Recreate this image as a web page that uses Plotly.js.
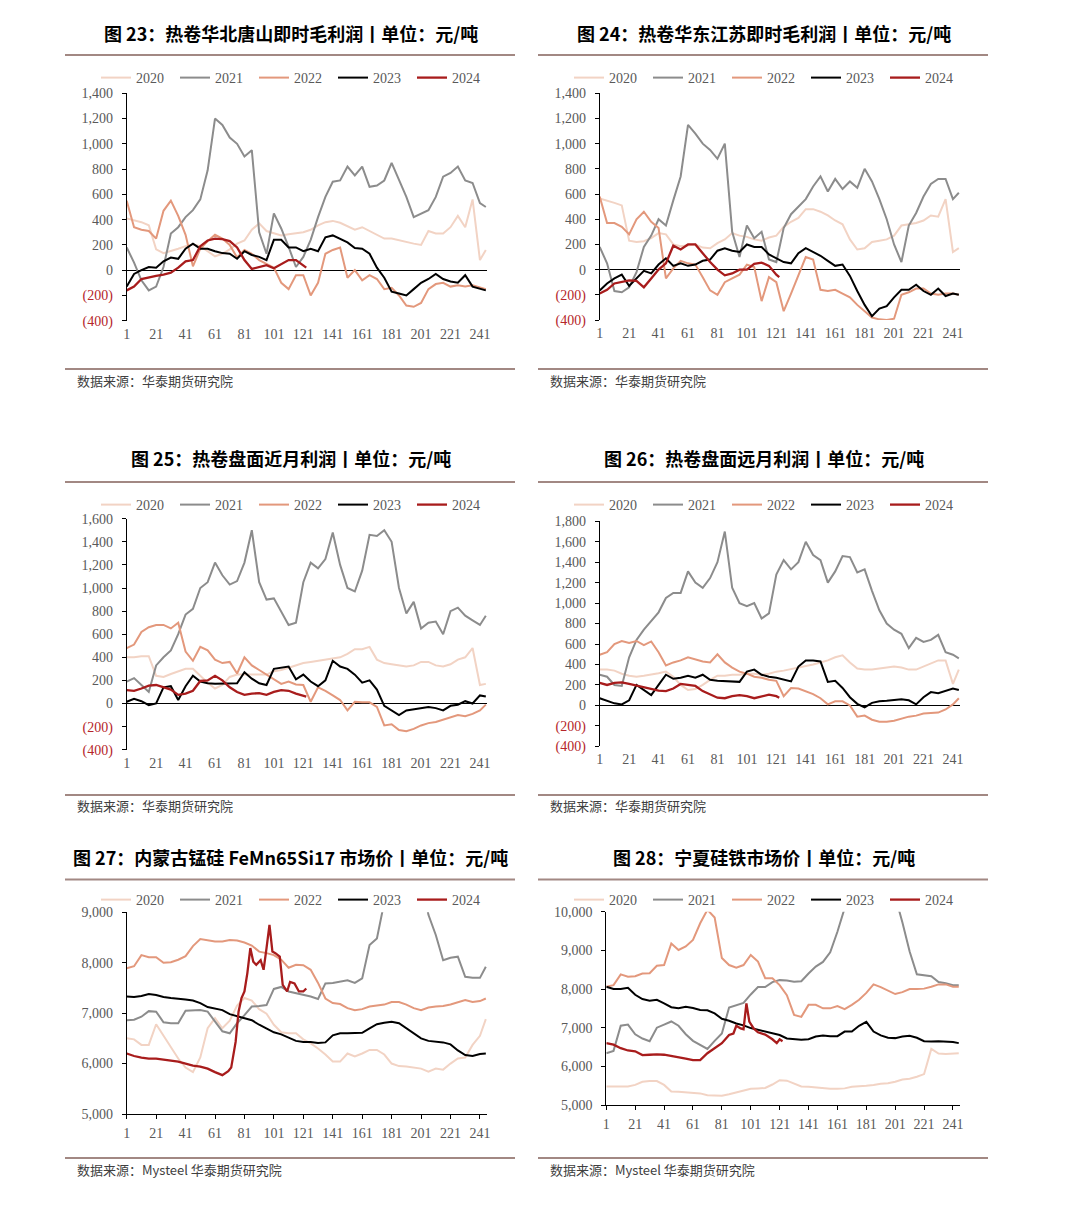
<!DOCTYPE html>
<html><head><meta charset="utf-8">
<script src="https://cdn.plot.ly/plotly-3.0.1.min.js"></script>
<style>html,body{margin:0;padding:0;background:#fff}#chart{width:1080px;height:1215px}</style>
</head><body><div id="chart"></div>
<script>
// ---------- shared categories ----------
const NAMES = ['2020','2021','2022','2023','2024'];
const X = [1,6,11,16,21,26,31,36,41,46,51,56,61,66,71,76,81,86,91,96,101,106,111,116,121,126,131,136,141,146,151,156,161,166,171,176,181,186,191,196,201,206,211,216,221,226,231,236,241,245];
const X24 = [1,6,11,16,21,26,31,36,41,46,51,56,61,66,71,76,81,86,91,96,101,106,111,116,121,123];
const X5_24 = [1,6,11,16,21,26,31,36,41,46,51,56,61,66,70,72,75,77,79,81,83,85,87,89,92,94,96,98,100,102,105,107,110,112,115,118,121,123];
const X6_24 = [1,6,11,16,21,26,31,36,41,46,51,56,61,66,71,76,81,86,89,91,94,96,98,100,103,106,111,116,119,121,123];

// ---------- tick labels ----------
const xTickVals = [1,21,41,61,81,101,121,141,161,181,201,221,241];
const xTickText = ['1','21','41','61','81','101','121','141','161','181','201','221','241'];
const yVals12 = [-400,-200,0,200,400,600,800,1000,1200,1400];
const yText12 = ['(400)','(200)','0','200','400','600','800','1,000','1,200','1,400'];
const yVals3 = [-400,-200,0,200,400,600,800,1000,1200,1400,1600];
const yText3 = ['(400)','(200)','0','200','400','600','800','1,000','1,200','1,400','1,600'];
const yVals4 = [-400,-200,0,200,400,600,800,1000,1200,1400,1600,1800];
const yText4 = ['(400)','(200)','0','200','400','600','800','1,000','1,200','1,400','1,600','1,800'];
const yVals5 = [5000,6000,7000,8000,9000];
const yText5 = ['5,000','6,000','7,000','8,000','9,000'];
const yVals6 = [5000,6000,7000,8000,9000,10000];
const yText6 = ['5,000','6,000','7,000','8,000','9,000','10,000'];

// ---------- chart 23 ----------
const c1_2020 = [410,395,380,355,165,135,150,170,190,205,190,150,110,130,165,210,235,320,370,310,290,275,285,290,300,320,355,380,390,375,345,320,340,310,280,250,250,235,220,210,200,310,290,290,340,430,340,560,80,160];
const c1_2021 = [180,60,-80,-160,-130,25,290,340,420,475,560,790,1200,1150,1050,1000,900,950,300,130,450,330,185,25,105,240,420,580,700,710,820,750,820,660,670,710,850,710,580,420,450,475,580,740,770,820,710,690,530,500];
const c1_2022 = [550,340,320,310,250,470,550,430,280,30,170,230,280,250,200,100,160,130,80,50,20,-100,-150,-40,-40,-200,-100,130,160,180,-60,0,-80,-40,-70,-150,-140,-200,-280,-290,-260,-150,-110,-100,-130,-120,-130,-120,-140,-150];
const c1_2023 = [-130,-30,0,25,20,70,100,90,170,210,170,170,150,135,130,90,150,120,105,80,240,240,180,180,150,170,150,260,275,250,220,175,170,130,20,-60,-170,-185,-200,-150,-100,-70,-30,-70,-90,-100,-40,-130,-150,-160];
const c1_2024 = [-160,-130,-70,-55,-45,-35,-20,20,70,80,190,235,250,245,230,180,80,10,25,40,15,50,80,80,40,20];

// ---------- chart 24 ----------
const c2_2020 = [565,550,530,510,230,220,225,250,290,280,200,185,190,200,175,170,210,240,290,270,260,240,230,255,270,340,380,410,480,480,460,430,390,360,240,160,170,220,230,240,270,350,360,370,390,430,420,560,140,170];
const c2_2021 = [180,50,-170,-180,-140,-20,180,270,400,350,550,740,1150,1080,1000,950,880,1000,300,100,350,250,300,80,60,330,440,500,560,660,740,620,720,640,700,650,800,700,560,400,200,60,350,450,580,680,720,720,560,610];
const c2_2022 = [580,370,370,340,280,400,460,380,330,-70,10,70,50,40,-60,-165,-200,-100,-70,-40,40,20,-250,-60,-100,-330,-190,-40,100,80,-160,-170,-160,-190,-220,-280,-330,-380,-395,-400,-390,-200,-180,-150,-150,-190,-200,-190,-190,-200];
const c2_2023 = [-165,-110,-70,-40,-130,-70,-10,-30,40,90,30,50,30,40,70,80,150,170,150,140,200,180,180,120,90,60,50,130,170,140,110,70,30,40,-50,-170,-280,-370,-310,-290,-220,-160,-160,-120,-170,-200,-150,-210,-190,-200];
const c2_2024 = [-190,-160,-110,-95,-85,-90,-140,-70,0,50,190,160,200,200,130,60,0,-45,-30,0,0,45,55,30,-40,-60];

// ---------- chart 25 ----------
const c3_2020 = [400,400,410,410,240,230,255,280,300,300,240,180,130,160,230,250,250,250,250,250,280,290,310,330,350,360,370,380,390,400,430,470,470,490,380,350,340,330,320,330,360,360,330,320,340,380,400,480,160,170];
const c3_2021 = [190,220,160,100,330,400,460,600,770,820,1000,1050,1220,1110,1030,1060,1220,1500,1050,900,910,800,680,700,1050,1220,1170,1250,1480,1200,1000,970,1150,1460,1450,1500,1400,1000,780,880,650,700,710,600,800,830,760,720,680,760];
const c3_2022 = [480,510,620,660,680,680,650,700,450,370,490,460,380,350,360,260,400,330,290,250,210,170,190,165,160,15,140,110,70,30,-60,15,10,10,-30,-190,-180,-230,-240,-220,-190,-170,-160,-140,-120,-100,-110,-90,-60,-10];
const c3_2023 = [15,40,20,-15,0,140,150,30,150,240,190,175,170,170,175,175,270,215,175,160,300,310,320,210,250,190,150,200,370,320,300,250,180,200,120,-20,-60,-100,-60,-50,-40,-30,-40,-60,-20,-10,20,0,70,60];
const c3_2024 = [115,110,130,155,160,140,120,75,85,110,195,200,240,200,140,100,75,85,90,75,100,115,110,85,65,60];

// ---------- chart 26 ----------
const c4_2020 = [350,350,340,310,290,280,290,300,315,330,280,200,150,160,200,250,290,290,300,300,310,310,300,310,330,340,355,365,380,400,420,440,470,490,420,360,350,350,360,370,380,370,350,350,380,410,440,440,210,350];
const c4_2021 = [300,280,200,190,470,640,740,830,910,1050,1100,1100,1310,1200,1150,1245,1400,1700,1150,1000,970,1000,850,900,1280,1420,1330,1400,1600,1470,1420,1200,1310,1460,1450,1300,1330,1120,930,800,740,700,560,660,620,640,690,520,495,460];
const c4_2022 = [495,520,600,630,610,630,590,625,520,390,420,440,470,450,430,420,500,420,370,330,310,280,270,250,240,90,170,165,135,110,70,10,40,40,0,-110,-100,-140,-160,-160,-150,-130,-110,-100,-80,-75,-70,-40,10,70];
const c4_2023 = [70,45,20,10,50,200,150,100,200,300,260,270,290,270,300,250,240,235,230,230,330,350,300,280,270,250,235,380,440,440,430,230,240,170,80,15,-20,25,40,45,55,60,50,10,80,130,120,140,165,150];
const c4_2024 = [220,200,220,225,210,195,180,160,145,140,165,210,200,190,140,105,75,70,90,100,90,70,90,105,90,75];

// ---------- chart 27 ----------
const c5_2020 = [6500,6480,6370,6370,6780,6550,6330,6100,5920,5830,6120,6700,6900,6700,6850,7150,7300,7250,7080,6990,6770,6620,6600,6600,6480,6400,6300,6180,6040,6040,6200,6140,6200,6270,6270,6180,6000,5950,5940,5920,5900,5840,5900,5880,6000,6100,6120,6370,6550,6880];
const c5_2021 = [6860,6870,6930,7040,7030,6820,6800,6800,7050,7060,7060,7030,6830,6640,6600,6800,6960,7130,7140,7160,7480,7520,7430,7400,7370,7330,7280,7590,7600,7620,7650,7600,7690,8350,8480,9200,9800,10200,10400,10200,9700,8950,8550,8050,8100,8120,7720,7700,7700,7920];
const c5_2022 = [7890,7930,8150,8110,8110,8000,8010,8060,8130,8330,8470,8450,8420,8420,8450,8440,8400,8340,8220,8190,8150,8060,7900,7960,7950,7860,7600,7290,7200,7180,7100,7060,7080,7130,7150,7170,7220,7220,7170,7100,7060,7110,7130,7140,7170,7220,7260,7220,7240,7290];
const c5_2023 = [7330,7320,7340,7380,7360,7320,7300,7290,7270,7250,7200,7120,7090,7060,6980,6940,6910,6860,6770,6690,6620,6580,6510,6450,6430,6430,6410,6420,6560,6600,6600,6600,6610,6700,6780,6810,6830,6800,6700,6600,6500,6450,6430,6420,6380,6260,6170,6150,6190,6200];
const c5_2024 = [6200,6150,6120,6100,6100,6080,6050,6040,6000,5960,5940,5900,5830,5770,5850,5920,6430,7030,7300,7430,7800,8290,8020,7960,8050,7860,8290,8750,8220,8190,8120,7560,7430,7620,7590,7430,7430,7490];

// ---------- chart 28 ----------
const c6_2020 = [5480,5480,5480,5480,5520,5600,5620,5620,5520,5350,5340,5330,5320,5300,5250,5240,5240,5280,5330,5380,5420,5430,5440,5530,5640,5630,5550,5480,5470,5450,5430,5420,5420,5430,5470,5480,5500,5520,5550,5560,5600,5660,5680,5730,5800,6450,6330,6320,6340,6340];
const c6_2021 = [6340,6400,7050,7080,6830,6720,6650,7000,7080,7160,7050,6830,6660,6550,6450,6660,6850,7520,7580,7640,7860,8050,8050,8180,8230,8220,8190,8200,8400,8580,8700,8950,9480,10150,10700,11000,11200,11200,11100,10800,10400,9720,8970,8380,8360,8330,8180,8150,8100,8100];
const c6_2022 = [8060,8100,8380,8320,8330,8400,8410,8600,8620,9180,9010,9100,9270,9700,10050,9850,8800,8620,8550,8620,8880,8710,8280,8280,8100,7840,7330,7280,7590,7590,7500,7500,7560,7480,7590,7720,7900,8120,8050,7950,7870,7920,8000,8000,8010,8060,8120,8120,8060,8060];
const c6_2023 = [8060,8000,8000,8030,7850,7740,7700,7720,7630,7530,7500,7540,7510,7460,7450,7370,7230,7180,7110,7060,6990,6940,6900,6850,6810,6720,6710,6690,6700,6770,6800,6780,6780,6900,6900,7050,7150,6900,6800,6740,6730,6770,6790,6740,6650,6640,6650,6640,6630,6600];
const c6_2024 = [6600,6560,6470,6410,6390,6290,6300,6310,6300,6270,6230,6200,6160,6160,6340,6470,6600,6810,6850,7050,6980,6960,7630,7160,6980,6880,6820,6700,6600,6700,6650];

// ---------- titles ----------
const TITLES = [
  '图 23：热卷华北唐山即时毛利润丨单位：元/吨',
  '图 24：热卷华东江苏即时毛利润丨单位：元/吨',
  '图 25：热卷盘面近月利润丨单位：元/吨',
  '图 26：热卷盘面远月利润丨单位：元/吨',
  '图 27：内蒙古锰硅 FeMn65Si17 市场价丨单位：元/吨',
  '图 28：宁夏硅铁市场价丨单位：元/吨'
];
const SOURCES = ['数据来源：华泰期货研究院','数据来源：华泰期货研究院','数据来源：华泰期货研究院','数据来源：华泰期货研究院','数据来源：Mysteel 华泰期货研究院','数据来源：Mysteel 华泰期货研究院'];

// ---------- styling / geometry ----------
const W = 1080, H = 1215;
const COLORS = ['#F2D3C4','#8C8C8C','#E3987C','#000000','#A81C1C'];
const SERIF = 'Liberation Serif, Times New Roman, serif';
const CJK = 'Noto Sans CJK SC, sans-serif';
const px = v => v / W, py = v => 1 - v / H;

const charts = [
  {xd:[126.7,487.3], yd:[93.3,320.7], yr:[-400,1400], yv:yVals12, yt:yText12, zero:true,  s:[c1_2020,c1_2021,c1_2022,c1_2023,c1_2024], x24:X24, left:true,  row:0},
  {xd:[599.7,960.3], yd:[93.3,320.0], yr:[-400,1400], yv:yVals12, yt:yText12, zero:true,  s:[c2_2020,c2_2021,c2_2022,c2_2023,c2_2024], x24:X24, left:false, row:0},
  {xd:[126.7,487.3], yd:[518.7,749.7], yr:[-400,1600], yv:yVals3, yt:yText3, zero:true,  s:[c3_2020,c3_2021,c3_2022,c3_2023,c3_2024], x24:X24, left:true,  row:1},
  {xd:[599.7,960.3], yd:[521.3,746.3], yr:[-400,1800], yv:yVals4, yt:yText4, zero:true,  s:[c4_2020,c4_2021,c4_2022,c4_2023,c4_2024], x24:X24, left:false, row:1},
  {xd:[126.7,487.3], yd:[912.3,1114.0], yr:[5000,9000], yv:yVals5, yt:yText5, zero:false, s:[c5_2020,c5_2021,c5_2022,c5_2023,c5_2024], x24:X5_24, left:true,  row:2},
  {xd:[606.3,960.2], yd:[911.7,1105.0], yr:[5000,10000], yv:yVals6, yt:yText6, zero:false, s:[c6_2020,c6_2021,c6_2022,c6_2023,c6_2024], x24:X6_24, left:false, row:2}
];
const ROWS = [
  {title:32.5, top:55, legend:78, bottom:369, source:380},
  {title:458, top:482, legend:505, bottom:795, source:805},
  {title:857, top:879.5, legend:900, bottom:1158, source:1169}
];

const data = [];
const layout = {
  width: W, height: H, margin:{l:0,r:0,t:0,b:0},
  paper_bgcolor:'#fff', plot_bgcolor:'rgba(0,0,0,0)',
  showlegend:true, annotations:[], shapes:[]
};

charts.forEach((c, i) => {
  const k = i === 0 ? '' : String(i + 1);
  const legId = 'legend' + k;
  c.s.forEach((ys, j) => {
    data.push({
      type:'scatter', mode:'lines', name:NAMES[j],
      x: j < 4 ? X : c.x24, y: ys,
      xaxis:'x' + k, yaxis:'y' + k, legend: legId,
      line:{color:COLORS[j], width: j === 4 ? 2.3 : 2},
      hoverinfo:'skip'
    });
  });
  const tickFont = {family:SERIF, size:14, color:'#595959'};
  layout['xaxis' + k] = {
    domain:[px(c.xd[0]), px(c.xd[1])], range:[1,246], anchor:'y' + k,
    tickmode:'array', tickvals:xTickVals, ticktext:xTickText,
    showgrid:false, zeroline:false,
    showline: !c.zero, linecolor:'#000', linewidth:1,
    ticks: c.zero ? '' : 'outside', ticklen:4, tickcolor:'#000',
    tickfont:tickFont, ticklabelstandoff: c.zero ? 3 : 2, fixedrange:true
  };
  layout['yaxis' + k] = {
    domain:[py(c.yd[1]), py(c.yd[0])], range:c.yr, anchor:'x' + k,
    tickmode:'array', tickvals:c.yv,
    ticktext:c.yt.map(t => t.charAt(0) === '(' ? '<span style="color:#B5262A">' + t + '</span>' : t),
    showgrid:false, showline:true, linecolor:'#000', linewidth:1,
    ticks:'outside', ticklen:4, tickcolor:'#000',
    zeroline:c.zero, zerolinecolor:'#000', zerolinewidth:1,
    tickfont:tickFont, ticklabelstandoff:6, fixedrange:true
  };
  const r = ROWS[c.row];
  const x0 = c.left ? 65 : 538, x1 = c.left ? 515 : 988;
  layout[legId] = {
    x: px(c.left ? 96 : 569), xanchor:'left', y: py(r.legend), yanchor:'middle',
    orientation:'h', bgcolor:'rgba(0,0,0,0)', borderwidth:0,
    font:{family:SERIF, size:14, color:'#595959'},
    itemwidth:30, entrywidth:34, entrywidthmode:'pixels', tracegroupgap:0
  };
  layout.annotations.push({
    xref:'paper', yref:'paper', x:px(c.left ? 290.5 : 763.5), y:py(r.title),
    xanchor:'center', yanchor:'middle', showarrow:false,
    text:'<b>' + TITLES[i] + '</b>', font:{family:CJK, size:18, color:'#000'}
  });
  layout.annotations.push({
    xref:'paper', yref:'paper', x:px(x0 + 10), y:py(r.source),
    xanchor:'left', yanchor:'middle', showarrow:false,
    text:SOURCES[i], font:{family:CJK, size:13, color:'#404040'}
  });
  [r.top, r.bottom].forEach(yy => layout.shapes.push({
    type:'line', xref:'paper', yref:'paper', x0:px(x0), x1:px(x1), y0:py(yy), y1:py(yy),
    line:{color:'#A28883', width:2}
  }));
});

Plotly.newPlot('chart', data, layout, {displayModeBar:false, staticPlot:true});
</script>
</body></html>
